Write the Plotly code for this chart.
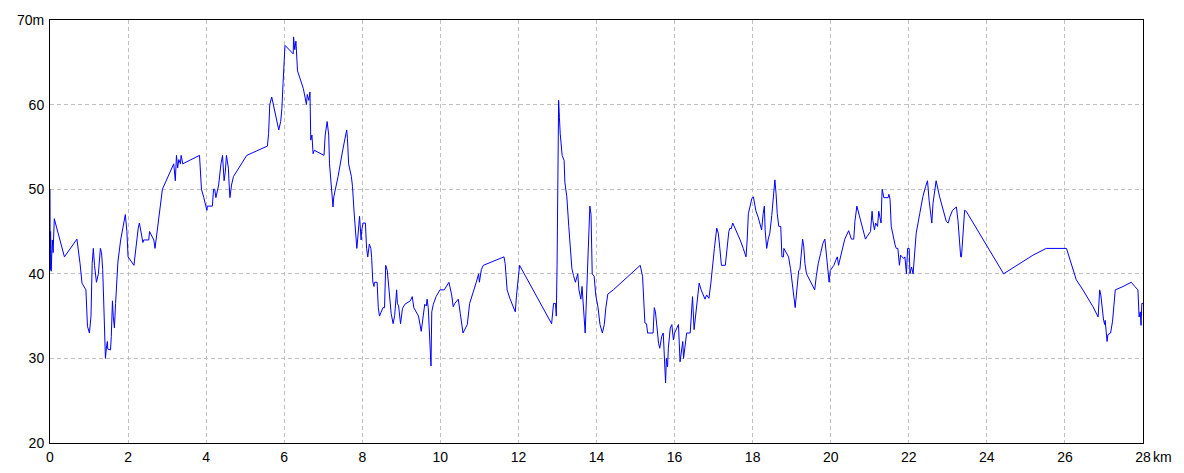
import plotly.graph_objects as go

distance_km = [
    0.00, 0.005, 0.015, 0.03, 0.06, 0.08, 0.11, 0.37, 0.69, 0.77, 0.82, 0.92, 0.96, 1.01, 1.05, 1.08,
    1.11, 1.14, 1.19, 1.24, 1.29, 1.32, 1.35, 1.375, 1.42, 1.45, 1.47, 1.48, 1.55, 1.57, 1.60, 1.62,
    1.65, 1.68, 1.72, 1.74, 1.81, 1.88, 1.93, 1.97, 2.00, 2.15, 2.22, 2.26, 2.29, 2.33, 2.38, 2.40,
    2.53, 2.55, 2.66, 2.69, 2.73, 2.80, 2.88, 3.17, 3.21, 3.24, 3.27, 3.30, 3.34, 3.36, 3.40, 3.83,
    3.88, 3.94, 3.99, 4.02, 4.03, 4.16, 4.19, 4.22, 4.25, 4.32, 4.38, 4.42, 4.46, 4.49, 4.52, 4.57,
    4.59, 4.61, 4.65, 4.70, 5.04, 5.57, 5.60, 5.63, 5.68, 5.80, 5.86, 5.91, 5.94, 5.97, 6.02, 6.23,
    6.24, 6.27, 6.30, 6.34, 6.49, 6.57, 6.59, 6.63, 6.66, 6.68, 6.71, 6.74, 6.77, 7.02, 7.05, 7.10,
    7.14, 7.16, 7.22, 7.25, 7.27, 7.38, 7.49, 7.60, 7.62, 7.65, 7.72, 7.75, 7.79, 7.83, 7.86, 7.88,
    7.91, 7.93, 7.97, 7.98, 8.02, 8.08, 8.11, 8.14, 8.18, 8.22, 8.24, 8.27, 8.30, 8.31, 8.38, 8.41,
    8.44, 8.53, 8.57, 8.60, 8.64, 8.69, 8.74, 8.79, 8.83, 8.88, 8.90, 8.93, 8.98, 9.03, 9.09, 9.23,
    9.28, 9.32, 9.44, 9.51, 9.53, 9.57, 9.60, 9.64, 9.66, 9.69, 9.73, 9.76, 9.78, 9.82, 9.89, 9.99,
    10.10, 10.22, 10.29, 10.33, 10.37, 10.46, 10.51, 10.56, 10.58, 10.69, 10.75, 10.92, 10.98, 11.00,
    11.05, 11.10, 11.35, 11.63, 11.66, 11.71, 11.78, 11.87, 11.92, 11.95, 12.00, 12.03,
    12.85, 12.90, 12.95, 12.97, 12.99, 13.01, 13.03, 13.05, 13.07, 13.12, 13.17, 13.19, 13.24, 13.29,
    13.34, 13.37, 13.41, 13.46, 13.52, 13.55, 13.60, 13.63, 13.71, 13.74, 13.77, 13.80, 13.83, 13.86,
    13.89, 13.94, 13.98, 14.04, 14.09, 14.15, 14.20, 14.24, 14.29, 14.43, 15.12, 15.18, 15.22, 15.24,
    15.28, 15.31, 15.45, 15.48, 15.51, 15.54, 15.59, 15.62, 15.67, 15.71, 15.74, 15.77, 15.79, 15.82,
    15.84, 15.89, 15.93, 15.97, 16.00, 16.06, 16.10, 16.14, 16.18, 16.21, 16.23, 16.28, 16.31, 16.40,
    16.44, 16.46, 16.50, 16.54, 16.58, 16.63, 16.68, 16.74, 16.78, 16.82, 16.88, 16.93, 16.97, 17.02,
    17.08, 17.12, 17.16, 17.20, 17.30, 17.34, 17.39, 17.42, 17.45, 17.49, 17.55, 17.68, 17.76, 17.83,
    17.86, 17.89, 17.93, 17.98, 18.02, 18.08, 18.14, 18.23, 18.27, 18.30, 18.32, 18.36, 18.40, 18.44,
    18.49, 18.53, 18.57, 18.60, 18.63, 18.67, 18.72, 18.75, 18.79, 18.80, 18.92, 18.97, 19.02, 19.04,
    19.09, 19.12, 19.18, 19.21, 19.25, 19.28, 19.31, 19.34, 19.38, 19.59, 19.63, 19.68, 19.74, 19.80,
    19.85, 19.89, 19.92, 19.96, 19.99, 20.08, 20.13, 20.17, 20.20, 20.25, 20.36, 20.46, 20.49, 20.53,
    20.59, 20.62, 20.67, 20.74, 20.83, 20.89, 20.93, 21.02, 21.06, 21.08, 21.12, 21.15, 21.20, 21.23,
    21.26, 21.29, 21.31, 21.32, 21.36, 21.47, 21.49, 21.52, 21.55, 21.61, 21.65, 21.68, 21.72, 21.76,
    21.79, 21.83, 21.87, 21.90, 21.92, 21.94, 21.97, 22.01, 22.03, 22.07, 22.11, 22.15, 22.19, 22.28,
    22.36, 22.43, 22.48, 22.52, 22.55, 22.59, 22.62, 22.66, 22.70, 22.79, 22.88, 22.96, 23.01, 23.05,
    23.12, 23.22, 23.26, 23.30, 23.33, 23.35, 23.39, 23.43, 23.47, 24.43, 25.18, 25.52, 26.04, 26.16,
    26.29, 26.46, 26.72, 26.85, 26.89, 26.92, 26.96, 26.99, 27.02, 27.03, 27.06, 27.08, 27.10, 27.17,
    27.22, 27.25, 27.29, 27.49, 27.70, 27.79, 27.87, 27.90, 27.93, 27.95, 27.97, 28.00,
]

elevation_m = [
    50.0, 40.5, 45.0, 40.3, 44.0, 42.5, 46.5, 42.0, 44.1, 41.2, 38.9, 38.1, 33.8, 33.0, 35.0, 41.2,
    43.0, 41.0, 39.0, 40.0, 43.0, 42.5, 40.5, 36.9, 30.0, 31.5, 32.0, 31.1, 31.0, 32.6, 36.8, 35.0,
    33.6, 36.5, 40.4, 41.4, 44.0, 46.0, 47.0, 45.0, 42.0, 41.0, 44.0, 45.4, 46.0, 45.0, 43.7, 44.0,
    44.0, 45.0, 44.0, 43.0, 44.5, 47.0, 50.0, 53.0, 51.0, 54.0, 52.5, 53.5, 53.0, 54.0, 53.0, 54.0,
    50.0, 49.0, 47.9, 47.5, 48.0, 48.0, 50.0, 50.0, 49.0, 50.5, 53.0, 54.0, 51.0, 52.0, 54.0, 52.5,
    50.5, 49.0, 50.5, 51.5, 54.0, 55.1, 56.6, 60.0, 60.9, 58.0, 57.0, 58.0, 59.5, 62.5, 67.0, 66.0,
    68.0, 66.5, 67.5, 64.0, 61.9, 60.0, 61.2, 60.5, 61.5, 55.8, 56.4, 54.2, 54.6, 54.0, 56.4, 58.0,
    56.4, 53.0, 49.1, 47.9, 49.1, 51.5, 54.4, 57.0, 56.0, 53.0, 51.5, 50.3, 47.3, 44.8, 43.0, 44.0,
    46.0, 46.8, 44.0, 45.0, 46.0, 46.0, 43.0, 42.0, 43.5, 43.0, 41.9, 39.0, 38.5, 39.0, 39.0, 36.0,
    35.0, 36.0, 36.0, 41.0, 40.4, 37.3, 35.3, 34.1, 35.1, 38.1, 36.5, 36.2, 34.1, 35.9, 36.4, 36.8,
    37.3, 36.0, 35.0, 33.2, 34.0, 35.0, 36.4, 36.2, 37.0, 36.0, 31.0, 29.1, 35.5, 36.4, 37.3, 38.1,
    38.1, 39.0, 37.5, 36.1, 36.5, 37.0, 35.3, 33.4, 33.0, 34.0, 36.5, 39.0, 40.0, 39.0,
    40.5, 41.0, 41.5, 42.0, 41.2, 38.1, 37.1, 36.2, 35.5, 37.4, 39.6, 41.0,
    34.1, 36.5, 36.5, 35.0, 41.0, 51.8, 60.5, 58.5, 56.6, 54.0, 53.4, 50.8, 49.1, 45.6,
    42.0, 40.6, 39.8, 39.0, 40.0, 38.1, 37.0, 38.5, 33.0, 36.8, 39.7, 44.0, 48.0, 47.0,
    40.0, 39.7, 37.5, 36.0, 34.0, 33.0, 34.0, 36.0, 37.6, 38.1, 41.0, 39.7, 35.9, 34.2,
    34.1, 33.0, 33.0, 36.0, 35.5, 34.0, 31.8, 31.2, 32.6, 33.0, 29.0, 27.1, 30.0, 29.0,
    31.2, 33.6, 34.0, 32.2, 33.0, 33.6, 34.0, 29.6, 31.0, 32.0, 30.0, 31.8, 33.0, 33.0,
    35.9, 37.3, 33.4, 35.1, 37.3, 38.9, 38.1, 37.5, 37.0, 37.5, 37.1, 38.9, 41.0, 43.0,
    45.4, 44.8, 43.0, 41.0, 41.0, 43.0, 45.0, 45.4, 45.3, 46.0, 45.4, 44.0, 43.0, 42.0,
    44.0, 47.1, 47.9, 48.9, 49.1, 47.5, 46.7, 45.2, 47.1, 48.0, 45.2, 43.0, 44.1, 44.8,
    46.9, 49.5, 51.1, 49.5, 47.1, 45.6, 45.6, 42.0, 42.0, 43.0, 42.0, 40.6, 38.5, 37.5,
    36.0, 37.5, 40.4, 40.5, 43.2, 44.1, 43.2, 41.2, 40.0, 38.1, 39.7, 41.2, 42.4, 43.6,
    44.1, 42.0, 40.8, 39.0, 40.4, 41.0, 41.6, 42.0, 41.0, 42.0, 44.1, 45.1, 44.6, 44.1,
    44.1, 46.2, 48.0, 46.7, 45.2, 44.1, 44.4, 45.0, 47.4, 46.3, 45.2, 46.0, 45.6, 47.4,
    46.7, 46.0, 49.1, 50.0, 49.0, 49.0, 49.4, 48.8, 45.6, 44.0, 43.4, 43.0, 43.0, 41.0,
    42.2, 42.0, 41.8, 42.0, 41.0, 40.0, 43.0, 43.0, 40.0, 40.8, 40.0, 42.4, 44.8, 47.1,
    49.1, 50.3, 51.0, 48.7, 47.3, 46.0, 48.3, 49.9, 51.0, 49.1, 47.5, 46.2, 46.0, 46.7,
    47.5, 47.9, 46.3, 44.2, 42.0, 42.0, 45.6, 47.5, 47.4, 40.0, 42.2, 43.0, 43.0, 41.2,
    39.3, 38.1, 36.1, 34.9, 38.1, 37.5, 35.5, 34.5, 34.0, 34.5, 33.0, 32.0, 32.8, 33.0,
    34.4, 36.5, 38.1, 38.5, 39.0, 38.5, 38.1, 34.9, 35.5, 33.9, 36.5, 36.5,
]

x_tick_vals = list(range(0, 29, 2))
x_tick_text = [str(v) for v in x_tick_vals]
y_tick_vals = [20, 30, 40, 50, 60, 70]
y_tick_text = ["20", "30", "40", "50", "60", "70m"]
x_unit = "km"

font_family = "Liberation Sans, Arial, sans-serif"
tick_font = dict(family=font_family, size=14, color="black")

fig = go.Figure()
fig.add_trace(go.Scatter(
    x=distance_km, y=elevation_m, mode="lines",
    line=dict(color="#0000ff", width=1),
    hoverinfo="x+y", showlegend=False,
))

axis_common = dict(
    showline=True, linecolor="black", linewidth=1, mirror=True,
    showgrid=True, gridcolor="#c0c0c0", gridwidth=1, griddash="4px,3px",
    zeroline=False, ticks="", tickfont=tick_font, automargin=False,
)

# page body has an 8px default margin; size the figure to compensate
fig.update_layout(
    width=1176, height=465,
    margin=dict(l=42, r=41, t=12, b=30, autoexpand=False),
    paper_bgcolor="white", plot_bgcolor="white",
    xaxis=dict(range=[0, 28], tickmode="array", tickvals=x_tick_vals, ticktext=x_tick_text,
               ticklabelstandoff=1, **axis_common),
    yaxis=dict(range=[20, 70], tickmode="array", tickvals=y_tick_vals, ticktext=y_tick_text,
               ticklabelstandoff=2, **axis_common),
    annotations=[dict(
        x=1, y=0, xref="paper", yref="paper", text=x_unit, showarrow=False,
        xanchor="left", yanchor="middle", xshift=8, yshift=-14,
        font=tick_font,
    )],
)

fig.write_html("out.html")
